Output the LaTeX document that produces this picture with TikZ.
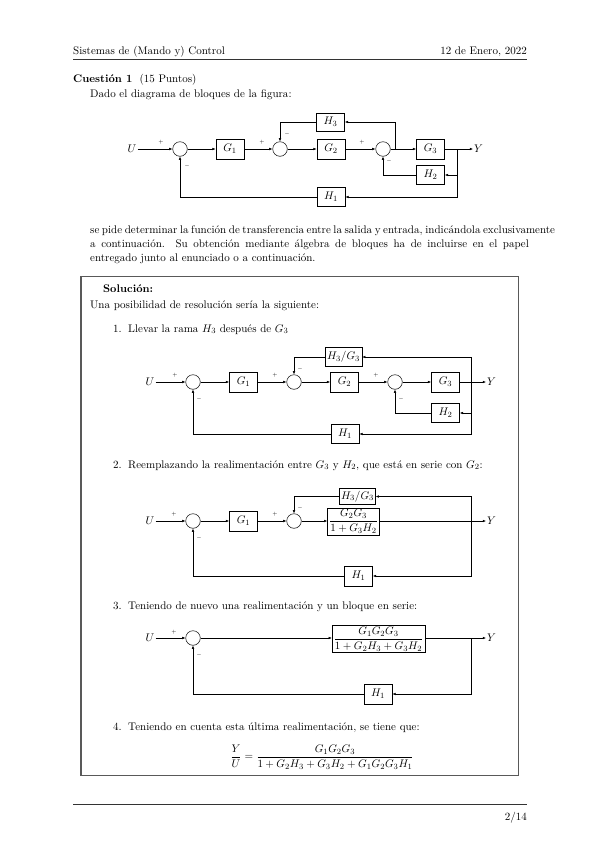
\documentclass[tikz,border=0pt]{standalone}
\usepackage{fontspec}
\usepackage{amsmath}
\usetikzlibrary{arrows.meta,calc}
\tikzset{
 blk/.style={draw, line width=0.6pt, minimum width=28pt, minimum height=20pt, inner sep=2pt},
 sumc/.style={draw, circle, minimum size=14.5pt, inner sep=0pt, line width=0.5pt},
 sig/.style={-{Latex[length=3.2pt,width=2.6pt]}, line width=0.5pt},
 ln/.style={line width=0.5pt},
 sgn/.style={font=\fontsize{4pt}{4pt}\selectfont, inner sep=0pt},
 txt/.style={anchor=base west, inner sep=0pt},
 txe/.style={anchor=base east, inner sep=0pt},
 rulel/.style={line width=0.7pt, black!80},
}
\begin{document}
\begin{tikzpicture}[x=0.9938pt,y=-0.9938pt,font=\fontsize{10.95}{13.6}\selectfont]
\useasboundingbox[fill=white] (0,0) rectangle (599,848);
% header
\node[txt] (hl) at (73,54) {Sistemas de (Mando y) Control};
\node[txe] (hr) at (527,54) {12 de Enero, 2022};
\draw[rulel] (73,59) coordinate (hr1) -- (527,59) coordinate (hr2);
\node[txt] (q1) at (73,82) {\textbf{Cuesti\'on 1}\hspace{7pt}(15 Puntos)};
\node[txt] (q2) at (90,97) {Dado el diagrama de bloques de la figura:};
% ---------- diagram 1
\node[inner sep=1pt] (U1) at (132,149) {$U$};
\node[sumc] (s11) at (180,149) {};
\node[blk] (G11) at (230,149) {$G_1$};
\node[sumc] (s12) at (280,149) {};
\node[blk] (G12) at (331,149) {$G_2$};
\node[sumc] (s13) at (383,149) {};
\node[blk] (G13) at (430.5,149) {$G_3$};
\node[inner sep=1pt,anchor=west] (Y1) at (473,149) {$Y$};
\node[blk,minimum height=18pt] (H13) at (330.5,122) {$H_3$};
\node[blk,minimum height=19pt] (H12) at (430.5,175) {$H_2$};
\node[blk,minimum height=19pt] (H11) at (331,197) {$H_1$};
\coordinate (b1) at (457,149);
\coordinate (b13) at (395,149);
\draw[sig] (U1) -- (s11);
\draw[sig] (s11) -- (G11);
\draw[sig] (G11) -- (s12);
\draw[sig] (s12) -- (G12);
\draw[sig] (G12) -- (s13);
\draw[sig] (s13) -- (G13);
\draw[sig] (G13) -- (Y1);
\draw[sig] (b1) |- (H12.east);
\draw[sig] (b1) |- (H11.east);
\draw[sig] (H12.west) -| (s13.south);
\draw[sig] (H11.west) -| (s11.south);
\draw[sig] (b13) |- (H13.east);
\draw[sig] (H13.west) -| (s12.north);
\node[sgn] (p11) at (161,142) {$+$};
\node[sgn] (m11) at (187,166) {$-$};
\node[sgn] (p12) at (262,142) {$+$};
\node[sgn] (m12) at (287,134) {$-$};
\node[sgn] (p13) at (362,142) {$+$};
\node[sgn] (m13) at (389,161) {$-$};
% paragraph
\node[txt] (l1) at (90,233) {\makebox[462pt][s]{se pide determinar la funci\'on de transferencia entre la salida y entrada, indic\'andola exclusivamente}};
\node[txt] (l2) at (90,247) {\makebox[436pt][s]{a continuaci\'on. Su obtenci\'on mediante \'algebra de bloques ha de incluirse en el papel}};
\node[txt] (l3) at (90,261) {entregado junto al enunciado o a continuaci\'on.};
% solution frame
\draw[line width=1pt, black!65] (81,276) rectangle (518,775);
\node[txt] (sol) at (103,292) {\textbf{Soluci\'on:}};
\node[txt] (una) at (90,308) {Una posibilidad de resoluci\'on ser\'ia la siguiente:};
\node[txe] (n1) at (122,332) {1.};
\node[txt] (t1) at (128,332) {Llevar la rama $H_3$ despu\'es de $G_3$};
% ---------- diagram 2
\node[inner sep=1pt] (U2) at (150,382) {$U$};
\node[sumc] (s21) at (193,382) {};
\node[blk] (G21) at (243.5,382) {$G_1$};
\node[sumc] (s22) at (294,382) {};
\node[blk] (G22) at (344.5,382) {$G_2$};
\node[sumc] (s23) at (395,382) {};
\node[blk] (G23) at (445.5,382) {$G_3$};
\node[inner sep=1pt,anchor=west] (Y2) at (486,382) {$Y$};
\node[blk,minimum height=19pt] (H23) at (343.5,357) {$H_3/G_3$};
\node[blk,minimum height=19pt] (H22) at (445.5,413) {$H_2$};
\node[blk,minimum height=19pt] (H21) at (345,434) {$H_1$};
\coordinate (b2) at (471,382);
\draw[sig] (U2) -- (s21);
\draw[sig] (s21) -- (G21);
\draw[sig] (G21) -- (s22);
\draw[sig] (s22) -- (G22);
\draw[sig] (G22) -- (s23);
\draw[sig] (s23) -- (G23);
\draw[sig] (G23) -- (Y2);
\draw[sig] (b2) |- (H23.east);
\draw[sig] (b2) |- (H22.east);
\draw[sig] (b2) |- (H21.east);
\draw[sig] (H23.west) -| (s22.north);
\draw[sig] (H22.west) -| (s23.south);
\draw[sig] (H21.west) -| (s21.south);
\node[sgn] (p21) at (175,375) {$+$};
\node[sgn] (m21) at (199,399) {$-$};
\node[sgn] (p22) at (275,375) {$+$};
\node[sgn] (m22) at (300,369) {$-$};
\node[sgn] (p23) at (376,375) {$+$};
\node[sgn] (m23) at (401,399) {$-$};
\node[txe] (n2) at (122,468) {2.};
\node[txt] (t2) at (128,468) {Reemplazando la realimentaci\'on entre $G_3$ y $H_2$, que est\'a en serie con $G_2$:};
% ---------- diagram 3
\node[inner sep=1pt] (U3) at (150,521) {$U$};
\node[sumc] (s31) at (193,521) {};
\node[blk] (G31) at (243.5,521) {$G_1$};
\node[sumc] (s32) at (294,521) {};
\node[blk,minimum width=47pt,inner sep=1.5pt] (F3) at (353.5,521.5) {$\dfrac{G_2G_3}{1+G_3H_2}$};
\node[inner sep=1pt,anchor=west] (Y3) at (486,521) {$Y$};
\node[blk,minimum height=16pt,inner sep=1.5pt] (H33) at (357.5,496.5) {$H_3/G_3$};
\node[blk,minimum height=20pt] (H31) at (358.5,576) {$H_1$};
\coordinate (b3) at (471,521);
\draw[sig] (U3) -- (s31);
\draw[sig] (s31) -- (G31);
\draw[sig] (G31) -- (s32);
\draw[sig] (s32) -- (s32 -| F3.west);
\draw[sig] (F3.east |- b3) -- (Y3);
\draw[sig] (b3) |- (H33.east);
\draw[sig] (b3) |- (H31.east);
\draw[sig] (H33.west) -| (s32.north);
\draw[sig] (H31.west) -| (s31.south);
\node[sgn] (p31) at (174,514) {$+$};
\node[sgn] (m31) at (199,538) {$-$};
\node[sgn] (p32) at (275,514) {$+$};
\node[sgn] (m32) at (300,508) {$-$};
\node[txe] (n3) at (122,609) {3.};
\node[txt] (t3) at (128,609) {Teniendo de nuevo una realimentaci\'on y un bloque en serie:};
% ---------- diagram 4
\node[inner sep=1pt] (U4) at (150,638) {$U$};
\node[sumc] (s41) at (193,638) {};
\node[blk,inner sep=1.5pt] (F4) at (378.5,639) {$\dfrac{G_1G_2G_3}{1+G_2H_3+G_3H_2}$};
\node[inner sep=1pt,anchor=west] (Y4) at (486,638) {$Y$};
\node[blk,minimum height=20pt] (H41) at (378,694) {$H_1$};
\coordinate (b4) at (471,638);
\draw[sig] (U4) -- (s41);
\draw[sig] (s41) -- (s41 -| F4.west);
\draw[sig] (F4.east |- b4) -- (Y4);
\draw[sig] (b4) |- (H41.east);
\draw[sig] (H41.west) -| (s41.south);
\node[sgn] (p41) at (174,632) {$+$};
\node[sgn] (m41) at (199,655) {$-$};
\node[txe] (n4) at (122,730) {4.};
\node[txt] (t4) at (128,730) {Teniendo en cuenta esta \'ultima realimentaci\'on, se tiene que:};
\node[inner sep=0pt] (eq) at (322,757) {$\dfrac{Y}{U}=\dfrac{G_1G_2G_3}{1+G_2H_3+G_3H_2+G_1G_2G_3H_1}$};
% footer
\draw[rulel] (73,804) coordinate (fr1) -- (527,804) coordinate (fr2);
\node[txe] (pg) at (527,820) {2/14};
\end{tikzpicture}
\end{document}
